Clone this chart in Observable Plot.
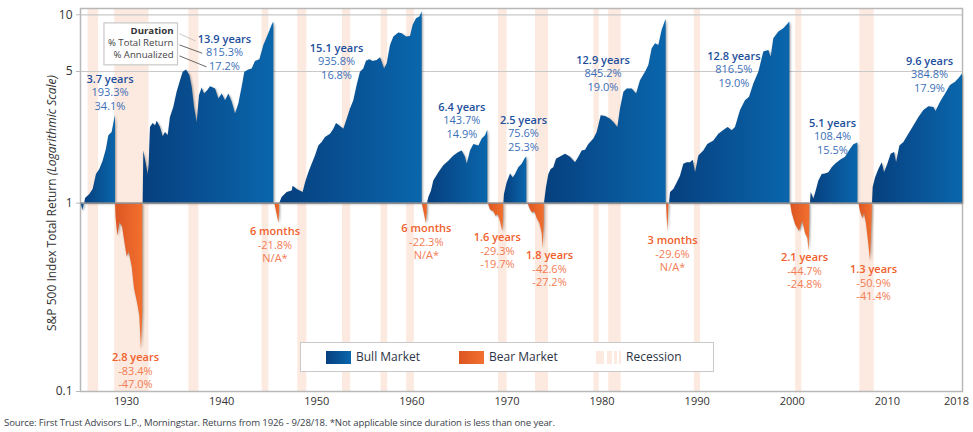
<!DOCTYPE html>
<html>
<head>
<meta charset="utf-8">
<script src="https://cdn.jsdelivr.net/npm/d3@7"></script>
<script src="https://cdn.jsdelivr.net/npm/@observablehq/plot@0.6"></script>
<style>
  body { margin: 0; background: #fff; font-family: "Open Sans", sans-serif; overflow: hidden; }
  #wrap { position: relative; width: 973px; height: 432px; }
  #legend { position: absolute; left: 300px; top: 342px; width: 412px; height: 28px; background: #fff; border: 1px solid #c9c9c9; font-size: 12px; color: #2c3345; }
  #legend div { position: absolute; }
  #legend .sw { top: 8px; height: 13px; }
  #legend .lab { top: 6px; line-height: 16px; }
  #caption { position: absolute; left: 4px; top: 416px; font-size: 9.6px; letter-spacing: -0.13px; line-height: 14px; color: #3a3f4a; white-space: nowrap; }
</style>
</head>
<body>
<div id="wrap">
  <div id="chart"></div>
  <div id="legend">
    <div class="sw" style="left:25px;width:25px;background:linear-gradient(90deg,#063f7e,#0a66ac)"></div>
    <div class="lab" style="left:55px">Bull Market</div>
    <div class="sw" style="left:158px;width:25px;background:linear-gradient(90deg,#dc5622,#f2702f)"></div>
    <div class="lab" style="left:188px">Bear Market</div>
    <div class="sw" style="left:295px;width:8px;background:#fce9df"></div>
    <div class="sw" style="left:306px;width:5px;background:#fce9df"></div>
    <div class="sw" style="left:313px;width:3px;background:#fce9df"></div>
    <div class="sw" style="left:318px;width:2px;background:#fce9df"></div>
    <div class="lab" style="left:325px">Recession</div>
  </div>
  <div id="caption">Source: First Trust Advisors L.P., Morningstar. Returns from 1926 - 9/28/18. *Not applicable since duration is less than one year.</div>
</div>
<script>
// recessions, in years
const recessionStart = [1926.8, 1929.6, 1937.4, 1945.1, 1948.85, 1953.55, 1957.6, 1960.3, 1969.95, 1973.85, 1980.0, 1981.55, 1990.55, 2001.2, 2007.95]
const recessionEnd = [1927.9, 1933.2, 1938.45, 1945.8, 1949.8, 1954.4, 1958.3, 1961.1, 1970.85, 1975.2, 1980.55, 1982.85, 1991.2, 2001.85, 2009.45]

// [year, total return index]
const bull0 = [[1926.07, 1], [1926.25, 0.91], [1926.42, 1]]
const bull1 = [[1926.45, 1], [1926.53, 1.06], [1926.98, 1.11], [1927.33, 1.18], [1927.68, 1.42], [1928.03, 1.51], [1928.38, 1.67], [1928.73, 1.93], [1928.98, 2.28], [1929.33, 2.37], [1929.5, 2.63], [1929.68, 2.93]]
const bull2 = [[1932.59, 1], [1932.66, 1.89], [1933.12, 1.42], [1933.22, 1.61], [1933.36, 2.52], [1933.64, 2.65], [1933.89, 2.57], [1934.06, 2.72], [1934.41, 2.52], [1934.69, 2.25], [1934.94, 2.37], [1935.22, 2.28], [1935.46, 2.85], [1935.81, 3.22], [1936.16, 3.88], [1936.52, 4.47], [1936.8, 4.96], [1937.15, 5.1], [1937.5, 4.76], [1937.74, 4.12], [1937.99, 3.22], [1938.27, 2.68], [1938.51, 3.72], [1938.79, 4.09], [1939.04, 3.8], [1939.39, 3.96], [1939.67, 4.15], [1940.2, 4.04], [1940.55, 3.57], [1940.9, 3.8], [1941.25, 3.5], [1941.6, 3.8], [1941.95, 3.43], [1942.3, 2.97], [1942.65, 3.36], [1943.0, 4.12], [1943.28, 4.96], [1943.7, 5.1], [1944.05, 5.16], [1944.4, 5.65], [1944.86, 5.77], [1945.28, 6.88], [1945.8, 7.93], [1946.15, 8.79], [1946.33, 9.15]]
const bull3 = [[1946.96, 1], [1947.2, 1.07], [1947.73, 1.14], [1948.26, 1.16], [1948.36, 1.23], [1948.78, 1.18], [1949.41, 1.14], [1949.66, 1.28], [1950.01, 1.45], [1950.36, 1.61], [1950.71, 1.78], [1951.06, 2.01], [1951.41, 2.1], [1951.76, 2.23], [1952.29, 2.32], [1952.64, 2.47], [1952.92, 2.65], [1953.27, 2.57], [1953.69, 2.47], [1954.04, 2.79], [1954.39, 3.16], [1954.74, 3.5], [1955.09, 4.21], [1955.44, 4.96], [1955.79, 5.16], [1956.07, 5.67], [1956.42, 5.77], [1956.77, 5.65], [1957.19, 5.72], [1957.55, 5.91], [1957.97, 5.16], [1958.25, 5.49], [1958.6, 6.88], [1958.95, 7.62], [1959.47, 8.0], [1959.82, 7.93], [1960.28, 7.62], [1960.7, 7.68], [1960.98, 8.79], [1961.33, 9.54], [1961.68, 9.73], [1961.93, 10.36]]
const bull4 = [[1962.49, 1], [1962.63, 1.07], [1962.91, 1.16], [1963.15, 1.31], [1963.68, 1.45], [1964.2, 1.58], [1964.73, 1.67], [1965.26, 1.78], [1965.78, 1.86], [1966.13, 1.89], [1966.48, 1.75], [1966.66, 1.61], [1967.01, 1.89], [1967.36, 2.05], [1967.89, 2.01], [1968.24, 2.19], [1968.59, 2.28], [1968.83, 2.44]]
const bull5 = [[1970.52, 1], [1970.58, 1.11], [1970.86, 1.28], [1971.22, 1.43], [1971.5, 1.36], [1971.74, 1.42], [1972.09, 1.54], [1972.44, 1.61], [1972.79, 1.73], [1972.93, 1.756]]
const bull6 = [[1974.79, 1], [1975.0, 1.21], [1975.25, 1.42], [1975.49, 1.51], [1975.77, 1.54], [1976.05, 1.71], [1976.47, 1.76], [1977.0, 1.82], [1977.52, 1.75], [1978.05, 1.64], [1978.4, 1.75], [1978.75, 1.89], [1979.1, 1.91], [1979.45, 2.05], [1979.98, 2.19], [1980.33, 2.37], [1980.75, 2.91], [1981.21, 2.88], [1981.73, 2.79], [1982.08, 2.68], [1982.5, 2.52], [1982.78, 3.16], [1983.14, 3.88], [1983.48, 4.04], [1984.01, 4.04], [1984.47, 3.8], [1984.88, 4.47], [1985.41, 4.96], [1985.76, 5.38], [1986.11, 6.6], [1986.46, 7.02], [1986.81, 6.88], [1987.16, 8.27], [1987.51, 9.27], [1987.58, 9.45]]
const bull7 = [[1987.94, 1], [1988.04, 1.14], [1988.39, 1.18], [1988.74, 1.28], [1989.09, 1.39], [1989.44, 1.61], [1989.79, 1.64], [1990.14, 1.64], [1990.42, 1.69], [1990.67, 1.45], [1991.02, 1.78], [1991.54, 1.89], [1991.96, 2.05], [1992.6, 2.14], [1993.12, 2.32], [1993.82, 2.47], [1994.1, 2.52], [1994.52, 2.42], [1994.87, 2.52], [1995.4, 3.1], [1995.92, 3.5], [1996.35, 3.65], [1996.8, 4.29], [1997.33, 4.96], [1997.85, 6.34], [1998.38, 6.47], [1998.62, 5.96], [1998.9, 7.46], [1999.43, 8.1], [1999.95, 8.44], [2000.59, 9.165]]
const bull8 = [[2002.76, 1], [2002.83, 1.14], [2003.11, 1.05], [2003.36, 1.16], [2003.64, 1.31], [2003.99, 1.42], [2004.34, 1.43], [2004.69, 1.45], [2005.04, 1.54], [2005.39, 1.61], [2005.92, 1.69], [2006.44, 1.75], [2006.97, 1.93], [2007.32, 2.04], [2007.74, 2.084]]
const bull9 = [[2009.28, 1], [2009.35, 1.21], [2009.6, 1.36], [2009.95, 1.51], [2010.3, 1.64], [2010.54, 1.45], [2010.89, 1.61], [2011.24, 1.82], [2011.6, 1.86], [2011.81, 1.64], [2012.16, 2.01], [2012.58, 2.1], [2013.1, 2.32], [2013.63, 2.57], [2014.16, 2.85], [2014.68, 3.1], [2015.21, 3.25], [2015.74, 3.22], [2015.95, 3.07], [2016.43, 3.43], [2016.96, 3.8], [2017.48, 4.21], [2018.01, 4.38], [2018.36, 4.57], [2018.74, 4.848]]

const bear1 = [[1929.68, 1], [1929.75, 0.83], [1929.93, 0.67], [1930.14, 0.79], [1930.42, 0.75], [1930.73, 0.59], [1930.91, 0.52], [1931.12, 0.55], [1931.43, 0.46], [1931.68, 0.35], [1932.03, 0.29], [1932.24, 0.25], [1932.41, 0.166], [1932.55, 0.265]]
const bear2 = [[1946.43, 1], [1946.68, 0.867], [1946.86, 0.782], [1946.93, 0.9]]
const bear3 = [[1961.93, 1], [1962.38, 0.777], [1962.47, 0.9]]
const bear4 = [[1968.87, 1], [1969.11, 0.92], [1969.46, 0.9], [1969.71, 0.85], [1969.92, 0.87], [1970.16, 0.8], [1970.41, 0.707], [1970.48, 0.85]]
const bear5 = [[1973.04, 1], [1973.32, 0.92], [1973.56, 0.885], [1973.77, 0.9], [1974.02, 0.83], [1974.3, 0.78], [1974.55, 0.69], [1974.65, 0.574], [1974.76, 0.8]]
const bear6 = [[1987.62, 1], [1987.76, 0.704], [1987.87, 0.95]]
const bear7 = [[2000.66, 1], [2000.83, 0.885], [2001.18, 0.77], [2001.6, 0.71], [2001.95, 0.8], [2002.23, 0.69], [2002.48, 0.65], [2002.62, 0.553], [2002.69, 0.85]]
const bear8 = [[2007.84, 1], [2008.02, 0.9], [2008.27, 0.83], [2008.44, 0.885], [2008.65, 0.77], [2008.9, 0.6], [2009.07, 0.491], [2009.25, 0.9]]

// annotations
const bullDuration = ['3.7 years', '13.9 years', '15.1 years', '6.4 years', '2.5 years', '12.9 years', '12.8 years', '5.1 years', '9.6 years']
const bullReturns = ['193.3%\n34.1%', '815.3%\n17.2%', '935.8%\n16.8%', '143.7%\n14.9%', '75.6%\n25.3%', '845.2%\n19.0%', '816.5%\n19.0%', '108.4%\n15.5%', '384.8%\n17.9%']
const bullLabelYear = [1929.1, 1941.14, 1952.92, 1966.1, 1972.58, 1980.94, 1994.7, 2005.07, 2015.27]
const bullLabelLevel = [4.45, 7.27, 6.51, 3.16, 2.7, 5.62, 5.91, 2.6, 5.55]
const bearDuration = ['2.8 years', '6 months', '6 months', '1.6 years', '1.8 years', '3 months', '2.1 years', '1.3 years']
const bearReturns = ['-83.4%\n-47.0%', '-21.8%\nN/A*', '-22.3%\nN/A*', '-29.3%\n-19.7%', '-42.6%\n-27.2%', '-29.6%\nN/A*', '-44.7%\n-24.8%', '-50.9%\n-41.4%']
const bearLabelYear = [1931.78, 1946.45, 1962.36, 1969.83, 1975.32, 1988.25, 2002.13, 2009.39]
const bearLabelLevel = [0.148, 0.692, 0.718, 0.644, 0.516, 0.62, 0.504, 0.435]

const tickYears = [1930, 1940, 1950, 1960, 1970, 1980, 1990, 2000, 2010]
const tickLevels = [10, 5, 1, 0.1]

const toRows = list => list.flatMap((p, i) => p.map(([year, value]) => ({ year, value, period: i })))
const bullRows = toRows([bull0, bull1, bull2, bull3, bull4, bull5, bull6, bull7, bull8, bull9])
const bearRows = toRows([bear1, bear2, bear3, bear4, bear5, bear6, bear7, bear8])
const recessions = recessionStart.map((s, i) => ({ s, e: recessionEnd[i] }))

const gradients = () => d3.create('svg:defs').html(`
  <linearGradient id="bull"><stop offset="0" stop-color="#063f7e"/><stop offset="1" stop-color="#0a66ac"/></linearGradient>
  <linearGradient id="bear"><stop offset="0" stop-color="#dc5622"/><stop offset="1" stop-color="#f2702f"/></linearGradient>
`).node()

const areaOpts = fill => ({
  x1: 'year', y1: () => 1, y2: 'value', z: 'period', fill,
  imageFilter: 'drop-shadow(1.5px 1px 1px rgba(70,70,70,.55))',
})
const lineText = (xs, ys) => ({ x: (d, i) => xs[i], y: (d, i) => ys[i], text: d => d })

const chart = Plot.plot({
  width: 973,
  height: 412,
  marginLeft: 80,
  marginRight: 11,
  marginTop: 8,
  marginBottom: 21,
  style: { fontFamily: '"Open Sans", sans-serif', background: 'transparent', overflow: 'visible' },
  x: { domain: [1926, 2018.74] },
  y: { type: 'log', domain: [0.1, 10.8] },
  marks: [
    gradients,
    Plot.rect(recessions, { x1: 's', x2: 'e', y1: () => 0.1, y2: () => 10.8, fill: '#fce9df' }),
    Plot.ruleY([10, 5], { stroke: '#c9c9c9', strokeWidth: 1.2 }),
    Plot.frame({ stroke: '#b8b8b8', strokeWidth: 1.5 }),
    Plot.axisY(tickLevels, { tickFormat: d => String(d), tickSize: 4, tickPadding: 4, fontSize: 12, stroke: '#b8b8b8', color: '#333', label: null }),
    Plot.axisX(tickYears, { tickSize: 0, tickPadding: 6, dx: 8, fontSize: 11, tickFormat: d => String(d), color: '#333', label: null }),
    Plot.axisX([2018], { tickSize: 0, tickPadding: 6, dx: 1, fontSize: 11, tickFormat: d => String(d), color: '#333', label: null }),
    Plot.area(bullRows, areaOpts('url(#bull)')),
    Plot.area(bearRows, areaOpts('url(#bear)')),
    Plot.ruleY([1], { stroke: '#8e8e8e', strokeWidth: 1.5 }),

    // period labels
    Plot.text(bullDuration, { ...lineText(bullLabelYear, bullLabelLevel), fill: '#1d4f9c', fontWeight: 600, fontSize: 11, dy: -1.5 }),
    Plot.text(bullReturns, { ...lineText(bullLabelYear, bullLabelLevel), fill: '#3c6fb8', fontSize: 11, lineHeight: 1.21, lineAnchor: 'top', dy: 6 }),
    Plot.text(bearDuration, { ...lineText(bearLabelYear, bearLabelLevel), fill: '#f0602c', fontWeight: 600, fontSize: 11, dy: -1.5 }),
    Plot.text(bearReturns, { ...lineText(bearLabelYear, bearLabelLevel), fill: '#f37c54', fontSize: 11, lineHeight: 1.21, lineAnchor: 'top', dy: 6 }),

    // callout
    Plot.rect([0], { x1: () => 1928.52, x2: () => 1936.25, y1: () => 5.39, y2: () => 9.0, fill: '#fff', stroke: '#c9c9c9', strokeWidth: 1.2 }),
    Plot.text(['Duration'], { x: () => 1935.78, y: () => 8.22, text: d => d, textAnchor: 'end', fontSize: 9.6, fontWeight: 700, fill: '#333' }),
    Plot.text(['% Total Return', '% Annualized'], {
      ...lineText([1935.78, 1935.78], [7.05, 6.09]),
      textAnchor: 'end', fontSize: 9.6, fill: '#444',
    }),
    Plot.link([0, 1, 2], {
      x1: () => 1936.41,
      y1: (d, i) => [7.93, 6.92, 6.05][i],
      x2: (d, i) => [1938.09, 1938.8, 1939.25][i],
      y2: (d, i) => [7.27, 6.25, 5.29][i],
      stroke: (d, i) => (i === 0 ? '#bbb' : '#444'),
      strokeWidth: 0.8,
    }),
  ],
})

// y label has an italic part, so it goes in by hand
const yLabel = d3.select(chart).append('text')
  .attr('transform', 'translate(53,203) rotate(-90)')
  .attr('text-anchor', 'middle')
  .attr('dominant-baseline', 'middle')
  .attr('font-size', 12)
  .attr('fill', '#333')
yLabel.append('tspan').text('S&P 500 Index Total Return ')
yLabel.append('tspan').attr('font-style', 'italic').text('(Logarithmic Scale)')

d3.select('#chart').append(() => chart)
</script>
</body>
</html>
